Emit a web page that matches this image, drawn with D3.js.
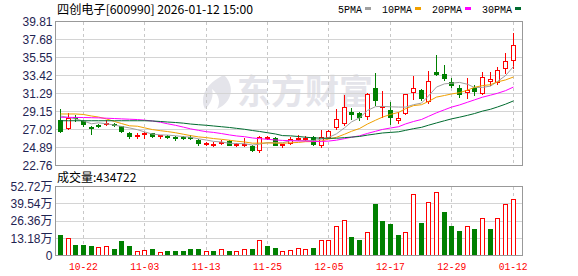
<!DOCTYPE html>
<html>
<head>
<meta charset="utf-8">
<script src="https://cdn.jsdelivr.net/npm/d3@7"></script>
<style>
  html, body { margin: 0; padding: 0; background: #fff; }
  svg { display: block; }
  .ylab text { font: 12px 'Liberation Sans', Arial, 'Noto Sans CJK SC', sans-serif; fill: #1f2452; }
  .xlab text { font: 11px 'Liberation Mono', monospace; fill: #ff0000; }
  .title { font: 12px 'Noto Sans CJK SC', sans-serif; fill: #000; }
  .legend { font: 11px 'Liberation Mono', monospace; fill: #000; }
</style>
</head>
<body>
<div id="chart"></div>
<script>
'use strict';

//#region DATA
const stockTitle = '四创电子[600990] 2026-01-12 15:00';
const volumeTitle = '成交量:434722';

const dates = [
  '10-17','10-20','10-21','10-22','10-23','10-24','10-27','10-28','10-29','10-30','10-31',
  '11-03','11-04','11-05','11-06','11-07','11-10','11-11','11-12','11-13','11-14',
  '11-17','11-18','11-19','11-20','11-21','11-24','11-25','11-26','11-27','11-28',
  '12-01','12-02','12-03','12-04','12-05','12-08','12-09','12-10','12-11','12-12',
  '12-15','12-16','12-17','12-18','12-19','12-22','12-23','12-24','12-25','12-26',
  '12-29','12-30','12-31','01-05','01-06','01-07','01-08','01-09','01-12'
];

const opens = [
  28.15, 27.20, 28.56, 28.03, 27.35, 27.53, 27.77, 27.67, 27.38, 26.63,
  26.34, 26.45, 26.55, 26.22, 26.25, 26.11, 26.13, 26.16, 25.78, 25.33,
  25.25, 25.48, 25.66, 25.16, 25.19, 25.07, 24.54, 26.02, 26.02, 25.16,
  25.42, 25.96, 25.98, 26.10, 25.19, 26.10, 27.28, 27.76, 29.13, 28.92,
  28.62, 31.94, 29.69, 29.30, 28.18, 28.92, 31.46, 31.68, 30.40, 33.79,
  33.59, 32.59, 31.97, 31.52, 31.97, 31.31, 32.82, 32.68, 34.36, 35.22
];
const highs = [
  29.41, 28.92, 28.77, 28.09, 27.44, 27.67, 28.09, 27.76, 27.46, 26.73,
  26.61, 26.73, 26.61, 26.41, 26.41, 26.31, 26.25, 26.34, 25.84, 25.60,
  25.54, 25.78, 25.78, 25.39, 25.96, 25.13, 26.29, 26.25, 26.19, 25.36,
  26.08, 26.41, 26.25, 26.25, 26.96, 26.96, 29.41, 31.11, 29.53, 29.15,
  31.31, 33.71, 31.58, 30.28, 29.13, 31.28, 33.36, 31.82, 33.89, 35.84,
  34.66, 33.08, 32.29, 33.12, 32.29, 33.83, 33.83, 34.39, 36.12, 38.45
];
const lows = [
  26.69, 27.05, 28.06, 27.38, 26.45, 27.26, 27.56, 27.47, 26.67, 25.98,
  26.04, 26.02, 26.10, 26.02, 26.02, 25.78, 25.93, 25.86, 25.13, 25.19,
  25.09, 25.31, 25.19, 25.01, 25.07, 24.42, 24.39, 25.90, 25.15, 24.97,
  25.25, 25.78, 25.78, 25.15, 24.99, 26.04, 27.08, 27.59, 28.30, 28.15,
  28.27, 29.98, 28.50, 27.64, 27.79, 28.80, 30.63, 30.52, 30.16, 33.42,
  32.94, 32.05, 30.91, 30.75, 31.11, 31.19, 32.35, 32.45, 33.68, 34.36
];
const closes = [
  26.88, 28.44, 28.38, 27.65, 27.16, 27.44, 27.85, 27.60, 26.84, 26.31,
  26.40, 26.55, 26.30, 26.36, 26.17, 26.04, 26.01, 25.97, 25.39, 25.42,
  25.33, 25.57, 25.22, 25.25, 25.31, 24.54, 26.13, 26.10, 25.22, 25.25,
  25.86, 26.05, 26.06, 25.33, 26.10, 26.81, 28.23, 29.65, 28.80, 28.50,
  31.20, 30.49, 29.80, 28.54, 28.35, 31.19, 31.94, 30.75, 32.76, 33.59,
  33.12, 32.26, 31.28, 31.66, 31.64, 33.20, 33.00, 34.07, 35.11, 37.03
];
// volume in 万
const volumes = [
  16.0, 13.5, 8.4, 8.4, 6.9, 6.6, 7.4, 5.3, 10.7, 7.6,
  3.6, 4.3, 4.6, 2.8, 3.8, 3.8, 3.8, 4.6, 4.6, 3.1,
  3.3, 5.1, 3.3, 3.1, 5.1, 5.3, 12.0, 6.9, 6.1, 3.8,
  4.3, 5.9, 4.6, 6.1, 11.5, 11.5, 22.9, 27.2, 14.5, 11.5,
  17.6, 39.7, 26.7, 23.7, 16.0, 18.1, 47.1, 24.7, 41.0, 48.7,
  33.6, 22.9, 19.1, 22.9, 20.6, 28.8, 19.9, 28.8, 39.0, 43.47
];

const ma5 = [
  28.62, 28.44, 28.27, 28.03, 27.70, 27.81, 27.70, 27.54, 27.38, 27.21,
  27.00, 26.74, 26.48, 26.38, 26.36, 26.28, 26.18, 26.11, 25.92, 25.77,
  25.62, 25.54, 25.39, 25.36, 25.34, 25.18, 25.29, 25.47, 25.46, 25.45,
  25.71, 25.70, 25.69, 25.71, 25.88, 26.07, 26.51, 27.22, 27.92, 28.40,
  29.28, 29.73, 29.76, 29.71, 29.68, 29.67, 29.96, 30.15, 31.00, 32.05,
  32.43, 32.50, 32.60, 32.38, 31.99, 32.01, 32.16, 32.71, 33.40, 34.48
];
const ma10 = [
  28.86, 28.86, 28.86, 28.80, 28.62, 28.50, 28.27, 27.97, 27.73, 27.46,
  27.41, 27.22, 27.01, 26.88, 26.78, 26.64, 26.46, 26.30, 26.15, 26.06,
  25.95, 25.86, 25.75, 25.64, 25.55, 25.40, 25.41, 25.43, 25.41, 25.39,
  25.45, 25.49, 25.58, 25.59, 25.66, 25.89, 26.10, 26.46, 26.81, 27.14,
  27.67, 28.12, 28.49, 28.81, 29.04, 29.48, 29.85, 29.96, 30.35, 30.86,
  31.05, 31.23, 31.38, 31.69, 32.02, 32.22, 32.33, 32.66, 32.89, 33.24
];
const ma20 = [
  28.47, 28.46, 28.45, 28.44, 28.42, 28.40, 28.36, 28.32, 28.28, 28.24,
  28.20, 28.13, 28.03, 27.88, 27.70, 27.52, 27.30, 27.10, 26.92, 26.76,
  26.68, 26.54, 26.38, 26.26, 26.17, 26.02, 25.94, 25.86, 25.78, 25.73,
  25.70, 25.67, 25.66, 25.61, 25.61, 25.65, 25.76, 25.94, 26.11, 26.27,
  26.56, 26.81, 27.03, 27.20, 27.35, 27.68, 27.97, 28.21, 28.58, 29.00,
  29.36, 29.67, 29.93, 30.25, 30.53, 30.85, 31.09, 31.31, 31.62, 32.05
];
const ma30 = [
  28.06, 28.06, 28.06, 28.06, 28.06, 28.06, 28.06, 28.06, 28.06, 28.06,
  28.06, 28.06, 28.03, 27.97, 27.91, 27.85, 27.77, 27.67, 27.59, 27.52,
  27.44, 27.35, 27.26, 27.16, 27.05, 26.90, 26.79, 26.64, 26.49, 26.30,
  26.27, 26.19, 26.11, 26.03, 26.00, 25.98, 25.99, 26.06, 26.12, 26.20,
  26.36, 26.49, 26.61, 26.68, 26.75, 26.92, 27.12, 27.28, 27.53, 27.80,
  28.06, 28.28, 28.48, 28.70, 28.91, 29.20, 29.42, 29.69, 30.02, 30.41
];

const maNames = ['5PMA', '10PMA', '20PMA', '30PMA'];
const priceTicks = [22.76, 24.89, 27.02, 29.15, 31.29, 33.42, 35.55, 37.68, 39.81];
const volumeTicks = [0, 13.18, 26.36, 39.54, 52.72];
const dateTicks = ['10-22', '11-03', '11-13', '11-25', '12-05', '12-17', '12-29', '01-12'];
//#endregion DATA

//#region STYLE
const upColor = '#ff0000';
const downColor = '#008000';
const maColors = ['#a0a0a0', '#f0a000', '#ff00ff', '#006b2f'];
const gridColor = '#d4d4d4';
const borderColor = '#999999';
//#endregion STYLE

//#region DIMENSIONS
const dims = {
  width: 578,
  height: 276,
  left: 55.5,
  right: 522.5,
  bandStart: 56.5,
  bandEnd: 517,
  mainTop: 21.5,
  mainBottom: 165.5,
  volTop: 186.5,
  volBottom: 255.5
};
//#endregion DIMENSIONS

const svg = d3.select('#chart').append('svg')
  .attr('width', dims.width)
  .attr('height', dims.height);

//#region SCALES
const xScale = d3.scaleBand()
  .domain(d3.range(dates.length))
  .range([dims.bandStart, dims.bandEnd])
  .padding(0);
const cx = i => Math.floor(xScale(i) + xScale.bandwidth() / 2) + 0.5;

const yScale = d3.scaleLinear()
  .domain([priceTicks[0], priceTicks[priceTicks.length - 1]])
  .range([dims.mainBottom, dims.mainTop]);

const vScale = d3.scaleLinear()
  .domain([0, volumeTicks[volumeTicks.length - 1]])
  .range([dims.volBottom, dims.volTop]);
const crisp = v => Math.round(v - 0.5) + 0.5;
//#endregion SCALES

//#region WATERMARK
const mark = svg.append('g').attr('fill', '#e4e4ea');
mark.append('path')
  .attr('d', 'M224 75 C207 83 199 96 205 109 C211 104 214 96 212 89 C219 95 221 102 217 109 C233 102 235 86 224 75 Z');
mark.append('text')
  .attr('x', 237)
  .attr('y', 104)
  .style('font', "bold 34px 'Noto Sans CJK SC', sans-serif")
  .text('东方财富');
//#endregion WATERMARK

//#region GRID
const grid = svg.append('g').attr('shape-rendering', 'crispEdges');

grid.selectAll('.hgrid').data(priceTicks.slice(1, -1))
  .enter().append('line')
  .attr('x1', dims.left).attr('x2', dims.right)
  .attr('y1', d => crisp(yScale(d))).attr('y2', d => crisp(yScale(d)))
  .attr('stroke', gridColor);

grid.selectAll('.vgrid').data(volumeTicks.slice(1, -1))
  .enter().append('line')
  .attr('x1', dims.left).attr('x2', dims.right)
  .attr('y1', d => crisp(vScale(d))).attr('y2', d => crisp(vScale(d)))
  .attr('stroke', gridColor);

const tickIdx = dateTicks.map(t => dates.indexOf(t));
[[dims.mainTop, dims.mainBottom], [dims.volTop, dims.volBottom]].forEach(([y1, y2]) => {
  grid.append('g').selectAll('line').data(tickIdx)
    .enter().append('line')
    .attr('x1', cx).attr('x2', cx)
    .attr('y1', y1).attr('y2', y2)
    .attr('stroke', '#c8c8c8')
    .attr('stroke-dasharray', '3 3');
});
//#endregion GRID

//#region CANDLES
const candles = svg.append('g').attr('shape-rendering', 'crispEdges');
const data = dates.map((d, i) => ({
  i, open: opens[i], high: highs[i], low: lows[i], close: closes[i], volume: volumes[i]
}));

const cGroups = candles.selectAll('g').data(data).enter().append('g');

cGroups.append('line')
  .attr('x1', d => cx(d.i)).attr('x2', d => cx(d.i))
  .attr('y1', d => Math.round(yScale(d.high)))
  .attr('y2', d => Math.round(yScale(d.low)) + 1)
  .attr('stroke', d => d.close > d.open ? upColor : downColor);

cGroups.each(function (d) {
  const g = d3.select(this);
  const x = cx(d.i);
  const top = Math.round(yScale(Math.max(d.open, d.close)));
  const bot = Math.round(yScale(Math.min(d.open, d.close)));
  if (d.close > d.open) {
    const h = Math.max(bot - top, 1);
    g.append('rect')
      .attr('x', x - 2).attr('y', top + 0.5)
      .attr('width', 4).attr('height', h)
      .attr('fill', '#fff')
      .attr('stroke', upColor);
  } else {
    g.append('rect')
      .attr('x', x - 2.5).attr('y', top)
      .attr('width', 5).attr('height', Math.max(bot - top, 1) + 1)
      .attr('fill', downColor);
  }
});
//#endregion CANDLES

//#region MOVING AVERAGES
const maLine = d3.line()
  .x((v, i) => cx(i))
  .y(v => yScale(v));

[ma5, ma10, ma20, ma30].forEach((series, k) => {
  svg.append('path')
    .datum(series)
    .attr('d', maLine)
    .attr('fill', 'none')
    .attr('stroke', maColors[k])
    .attr('stroke-width', 1);
});
//#endregion MOVING AVERAGES

//#region VOLUME
const vol = svg.append('g').attr('shape-rendering', 'crispEdges');
vol.selectAll('g').data(data).enter().append('g').each(function (d) {
  const g = d3.select(this);
  const x = cx(d.i);
  const prev = d.i > 0 ? closes[d.i - 1] : d.open;
  const up = d.close > prev;
  const top = Math.round(vScale(d.volume));
  const bottom = Math.round(vScale(0));
  if (up) {
    g.append('rect')
      .attr('x', x - 2).attr('y', top + 0.5)
      .attr('width', 4).attr('height', bottom - top - 1)
      .attr('fill', '#fff')
      .attr('stroke', upColor);
  } else {
    g.append('rect')
      .attr('x', x - 2.5).attr('y', top)
      .attr('width', 5).attr('height', bottom - top)
      .attr('fill', downColor);
  }
});
//#endregion VOLUME

//#region FRAMES
const frames = svg.append('g').attr('shape-rendering', 'crispEdges')
  .attr('fill', 'none').attr('stroke', borderColor);
frames.append('rect')
  .attr('x', dims.left).attr('y', dims.mainTop)
  .attr('width', dims.right - dims.left).attr('height', dims.mainBottom - dims.mainTop);
frames.append('rect')
  .attr('x', dims.left).attr('y', dims.volTop)
  .attr('width', dims.right - dims.left).attr('height', dims.volBottom - dims.volTop);
//#endregion FRAMES

//#region AXES
const yAxis = d3.axisLeft(yScale)
  .tickValues(priceTicks)
  .tickSize(0)
  .tickPadding(3)
  .tickFormat(d3.format('.2f'));
svg.append('g')
  .attr('class', 'ylab')
  .attr('transform', `translate(${dims.left},0)`)
  .call(yAxis)
  .call(g => g.select('.domain').remove());

const vAxis = d3.axisLeft(vScale)
  .tickValues(volumeTicks)
  .tickSize(0)
  .tickPadding(3)
  .tickFormat(d => d === 0 ? '0' : d.toFixed(2) + '万');
svg.append('g')
  .attr('class', 'ylab')
  .attr('transform', `translate(${dims.left},0)`)
  .call(vAxis)
  .call(g => g.select('.domain').remove());

const xAxis = d3.axisBottom(xScale)
  .tickValues(tickIdx)
  .tickSize(0)
  .tickPadding(7)
  .tickFormat(i => dates[i]);
svg.append('g')
  .attr('class', 'xlab')
  .attr('transform', `translate(0,${dims.volBottom})`)
  .call(xAxis)
  .call(g => g.select('.domain').remove())
  .selectAll('text')
  .attr('textLength', 29)
  .attr('lengthAdjust', 'spacingAndGlyphs');
//#endregion AXES

//#region TITLES AND LEGEND
svg.append('text')
  .attr('class', 'title')
  .attr('x', 57).attr('y', 14)
  .attr('textLength', 196)
  .attr('lengthAdjust', 'spacingAndGlyphs')
  .text(stockTitle);

svg.append('text')
  .attr('class', 'title')
  .attr('x', 57).attr('y', 182)
  .text(volumeTitle);

const legend = svg.append('g');
let lx = 338;
maNames.forEach((name, k) => {
  const w = name.length * 6;
  legend.append('text')
    .attr('class', 'legend')
    .attr('x', lx).attr('y', 13)
    .attr('textLength', w)
    .attr('lengthAdjust', 'spacingAndGlyphs')
    .text(name);
  legend.append('rect')
    .attr('x', lx + w + 3).attr('y', 7)
    .attr('width', 6).attr('height', 3)
    .attr('fill', maColors[k]);
  lx += w + 3 + 6 + 11;
});
//#endregion TITLES AND LEGEND
</script>
</body>
</html>
